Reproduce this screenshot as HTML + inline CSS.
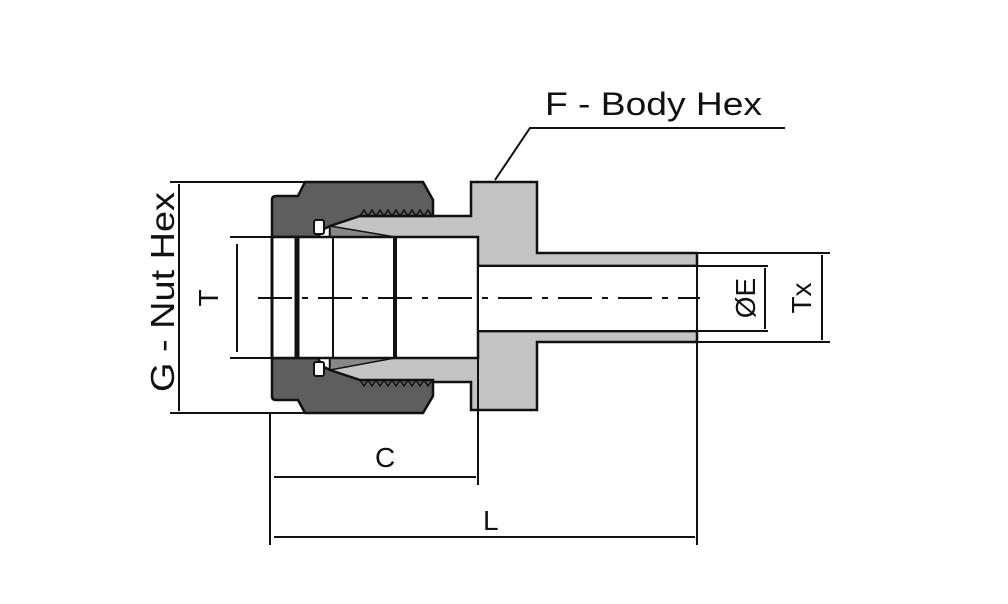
<!DOCTYPE html>
<html><head><style>html,body{margin:0;padding:0;background:#fff}svg{display:block}</style></head>
<body>
<svg width="1008" height="604" viewBox="0 0 1008 604" xmlns="http://www.w3.org/2000/svg" font-family="Liberation Sans, sans-serif">
<rect width="1008" height="604" fill="#fff"/>
<path d="M471,182 L537,182 L537,253 L697,253 L697,266 L478,266 L478,331 L697,331 L697,342 L537,342 L537,410 L471,410 L471,382 L355,382 L330,370 L330,226 L355,216 L471,216 Z" fill="#c4c4c4" stroke="#111" stroke-width="2.5"/>
<path d="M272,200 Q272,196 276,196 L298,196 L305,182 L423,182 L433,200 L433,216 L360,216 L330,226 L322,230 L318,237 L272,237 Z" fill="#5e5e5e" stroke="#111" stroke-width="2.5"/>
<path d="M272,396 Q272,400 276,400 L298,400 L305,413 L423,413 L433,396 L433,380 L360,380 L330,370 L322,366 L318,358 L272,358 Z" fill="#5e5e5e" stroke="#111" stroke-width="2.5"/>
<path d="M360,216 l4,-6 l4,6 l4,-6 l4,6 l4,-6 l4,6 l4,-6 l4,6 l4,-6 l4,6 l4,-6 l4,6 l4,-6 l4,6 l4,-6 l4,6 l4,-6 l4,6" fill="none" stroke="#111" stroke-width="1.5"/>
<path d="M360,380 l4,6 l4,-6 l4,6 l4,-6 l4,6 l4,-6 l4,6 l4,-6 l4,6 l4,-6 l4,6 l4,-6 l4,6 l4,-6 l4,6 l4,-6 l4,6 l4,-6" fill="none" stroke="#111" stroke-width="1.5"/>
<rect x="314" y="220" width="10" height="14" rx="2" fill="#fff" stroke="#111" stroke-width="2"/>
<rect x="314" y="362" width="10" height="14" rx="2" fill="#fff" stroke="#111" stroke-width="2"/>
<path d="M330,226 L395,237 L330,237 Z" fill="#888" stroke="#111" stroke-width="1.5"/>
<path d="M330,370 L395,358 L330,358 Z" fill="#888" stroke="#111" stroke-width="1.5"/>
<rect x="272" y="237" width="206" height="121" fill="#fff" stroke="#111" stroke-width="2.5"/>
<line x1="272" y1="237" x2="272" y2="358" stroke="#111" stroke-width="3"/>
<line x1="297" y1="237" x2="297" y2="358" stroke="#111" stroke-width="5"/>
<line x1="333" y1="237" x2="333" y2="358" stroke="#111" stroke-width="2"/>
<line x1="395" y1="237" x2="395" y2="358" stroke="#111" stroke-width="4"/>
<line x1="478" y1="266" x2="697" y2="266" stroke="#111" stroke-width="2.5"/>
<line x1="478" y1="331" x2="697" y2="331" stroke="#111" stroke-width="2.5"/>
<rect x="479" y="267" width="218" height="63" fill="#fff"/>
<line x1="258" y1="298" x2="700" y2="298" stroke="#111" stroke-width="2" stroke-dasharray="34,10,6,10"/>
<g stroke="#111" stroke-width="2" fill="none">
<line x1="170" y1="182" x2="305" y2="182"/>
<line x1="170" y1="413" x2="305" y2="413"/>
<line x1="179" y1="184" x2="179" y2="411"/>
<line x1="230" y1="237" x2="272" y2="237"/>
<line x1="230" y1="358" x2="272" y2="358"/>
<line x1="237" y1="244" x2="237" y2="352"/>
<line x1="270" y1="413" x2="270" y2="545"/>
<line x1="478" y1="358" x2="478" y2="485"/>
<line x1="697" y1="253" x2="697" y2="545"/>
<line x1="274" y1="477" x2="476" y2="477"/>
<line x1="274" y1="537" x2="695" y2="537"/>
<line x1="697" y1="253" x2="830" y2="253"/>
<line x1="697" y1="342" x2="830" y2="342"/>
<line x1="697" y1="266" x2="768" y2="266"/>
<line x1="697" y1="331" x2="768" y2="331"/>
<line x1="765" y1="268" x2="765" y2="329"/>
<line x1="822" y1="255" x2="822" y2="340"/>
<polyline points="495,180 530,128 785,128"/>
</g>
<g fill="#111" font-size="30">
<text x="545" y="115" font-size="32" textLength="217" lengthAdjust="spacingAndGlyphs">F - Body Hex</text>
<text x="375" y="467" font-size="28">C</text>
<text x="483" y="530" font-size="28">L</text>
<text transform="translate(174,292) rotate(-90)" text-anchor="middle" font-size="33" textLength="200" lengthAdjust="spacingAndGlyphs">G - Nut Hex</text>
<text transform="translate(218,298) rotate(-90)" text-anchor="middle" font-size="28">T</text>
<text transform="translate(755,298) rotate(-90)" text-anchor="middle" font-size="28">ØE</text>
<text transform="translate(811,298) rotate(-90)" text-anchor="middle" font-size="28">Tx</text>
</g>
</svg>
</body></html>
